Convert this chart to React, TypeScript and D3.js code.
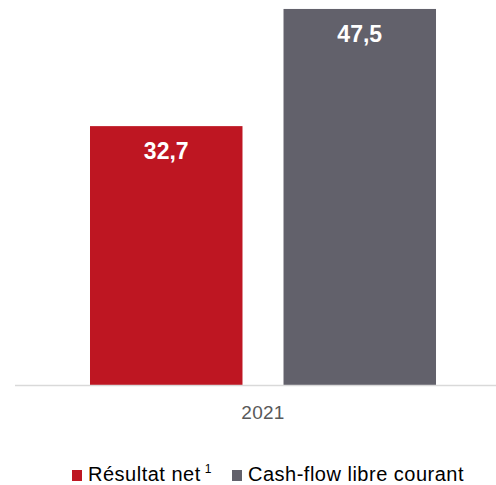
import React from "react";
import * as d3 from "d3";

const categories = ["2021"];
const seriesNames = ["Résultat net", "Cash-flow libre courant"];
const seriesValues = [[32.7], [47.5]];
const valueLabels = [["32,7"], ["47,5"]];
const seriesColors = ["#BE1622", "#62616B"];

const W = 496;
const H = 485;
const baseY = 385;

export default function App() {
  const x0 = d3.scaleBand<string>().domain(categories).range([30, 496]).paddingInner(0).paddingOuter(0.1734);
  const x1 = d3.scaleBand<string>().domain(seriesNames).range([0, x0.bandwidth()]).paddingInner(0.212).paddingOuter(0);
  const y = d3.scaleLinear().domain([0, 48]).range([baseY, 5]);
  const font = "'Liberation Sans', Arial, sans-serif";
  const legendX = [72, 232];

  return (
    <svg width={W} height={H} style={{ position: "absolute", left: 0, top: 0 }} fontFamily={font}>
      {categories.map((c, ci) => (
        <g key={c} transform={`translate(${x0(c)},0)`}>
          {seriesNames.map((s, si) => {
            const v = seriesValues[si][ci];
            const bx = x1(s)!;
            const bw = x1.bandwidth();
            return (
              <g key={s}>
                <rect x={bx} y={y(v)} width={bw} height={y(0) - y(v)} fill={seriesColors[si]} />
                <text x={bx + bw / 2} y={y(v) + 33} textAnchor="middle" fill="#fff" fontWeight="bold" fontSize={23}>
                  {valueLabels[si][ci]}
                </text>
              </g>
            );
          })}
          <text x={x0.bandwidth() / 2} y={419} textAnchor="middle" fill="#595959" fontSize={19} letterSpacing={0.3}>
            {c}
          </text>
        </g>
      ))}
      <line x1={15} x2={496} y1={baseY + 0.5} y2={baseY + 0.5} stroke="#D9D9D9" strokeWidth={1.5} />
      {seriesNames.map((s, si) => (
        <g key={s} transform={`translate(${legendX[si]},0)`}>
          <rect x={0} y={470} width={10} height={11} fill={seriesColors[si]} />
          <text x={16} y={481} fill="#000" fontSize={20} letterSpacing={0.5}>
            {s}
            {si === 0 ? (
              <tspan dx={4} dy={-8} fontSize={12}>1</tspan>
            ) : null}
          </text>
        </g>
      ))}
    </svg>
  );
}
